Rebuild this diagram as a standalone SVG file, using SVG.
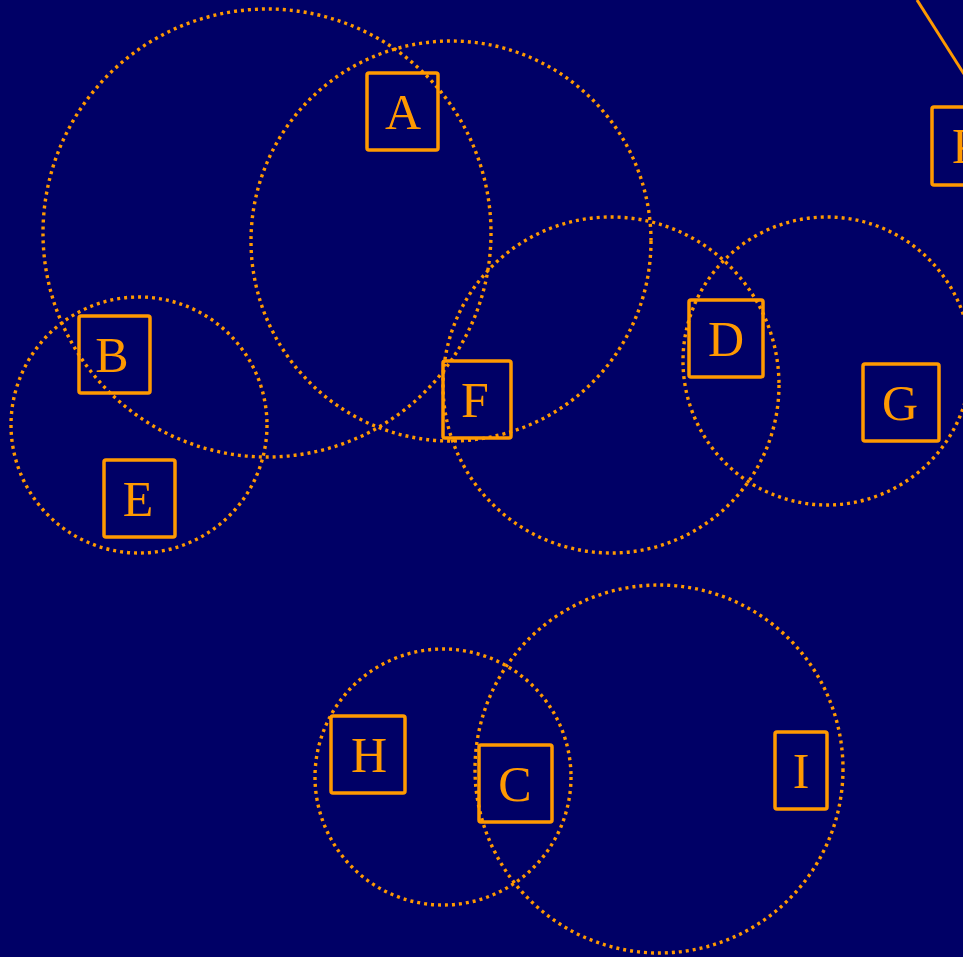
<svg xmlns="http://www.w3.org/2000/svg" width="963" height="957" viewBox="0 0 963 957">
<style>
.c{fill:none;stroke:#ff9900;stroke-width:3.4;stroke-dasharray:3 4}
.b{fill:none;stroke:#ff9900;stroke-width:3.5;}
.t{fill:#ff9900;font-family:"Liberation Serif","DejaVu Serif",serif;font-size:50px;text-anchor:middle}
.e{stroke:#ff9900;stroke-width:3;fill:none}
</style>
<rect width="963" height="957" fill="#000066"/>
<g id="clusters">
<circle class="c" cx="267" cy="233" r="224"/>
<circle class="c" cx="451" cy="241" r="200"/>
<circle class="c" cx="611" cy="385" r="168"/>
<circle class="c" cx="827" cy="361" r="144"/>
<circle class="c" cx="139" cy="425" r="128"/>
<circle class="c" cx="443" cy="777" r="128"/>
<circle class="c" cx="659" cy="769" r="184"/>
</g>
<g id="connectors">
<line class="e" x1="917" y1="0" x2="964" y2="74"/>
</g>
<g id="A"><rect class="b" x="367" y="73" width="71" height="77" rx="2"/><text class="t" x="403" y="129">A</text></g>
<g id="B"><rect class="b" x="79" y="316" width="71" height="77" rx="2"/><text class="t" x="112" y="372">B</text></g>
<g id="E"><rect class="b" x="104" y="460" width="71" height="77" rx="2"/><text class="t" x="138" y="516">E</text></g>
<g id="F"><rect class="b" x="443" y="361" width="68" height="77" rx="2"/><text class="t" x="475" y="417">F</text></g>
<g id="D"><rect class="b" x="689" y="300" width="74" height="77" rx="2"/><text class="t" x="726" y="356">D</text></g>
<g id="G"><rect class="b" x="863" y="364" width="76" height="77" rx="2"/><text class="t" x="900" y="420">G</text></g>
<g id="H"><rect class="b" x="331" y="716" width="74" height="77" rx="2"/><text class="t" x="369" y="772">H</text></g>
<g id="C"><rect class="b" x="479" y="745" width="73" height="77" rx="2"/><text class="t" x="515" y="801">C</text></g>
<g id="I"><rect class="b" x="775" y="732" width="52" height="77" rx="2"/><text class="t" x="801" y="788">I</text></g>
<g id="K"><rect class="b" x="932" y="107" width="76" height="78" rx="2"/><text class="t" x="970" y="163">K</text></g>
</svg>
